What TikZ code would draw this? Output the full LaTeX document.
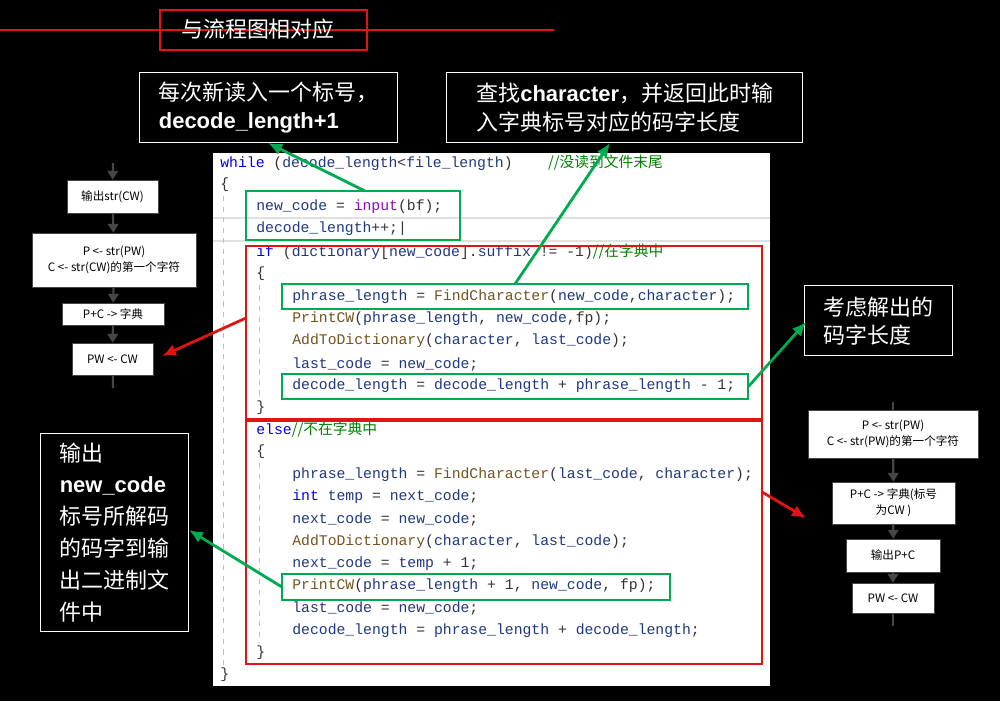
\documentclass[tikz,border=0pt]{standalone}
\usepackage{fontspec}
\setmainfont{Liberation Sans}
\setmonofont{Liberation Mono}
\newfontfamily\cjk{Noto Sans CJK SC}
\newfontfamily\arialb{Liberation Sans}
\definecolor{kwc}{RGB}{0,0,230}
\definecolor{fnc}{RGB}{116,83,31}
\definecolor{inc}{RGB}{143,8,196}
\definecolor{cmc}{RGB}{0,128,0}
\definecolor{vac}{RGB}{31,55,127}
\definecolor{gbox}{RGB}{0,170,80}
\definecolor{rbox}{RGB}{225,20,20}
\definecolor{flow}{RGB}{70,70,70}
\newcommand{\kw}[1]{\textcolor{kwc}{#1}}
\newcommand{\fn}[1]{\textcolor{fnc}{#1}}
\newcommand{\cmt}[1]{\textcolor{cmc}{{\cjk #1}}}
\newcommand{\va}[1]{\textcolor{vac}{#1}}
\begin{document}
\begin{tikzpicture}[x=0.02cm,y=-0.02cm,
  code/.style={anchor=west,inner sep=0,font=\ttfamily\fontsize{8.4}{10}\selectfont,text=black!80},
  lab/.style={draw=white,line width=0.8pt,fill=black,text=white,font=\cjk\fontsize{12.5}{16}\selectfont,align=left,anchor=north west,inner sep=5pt},
  gb/.style={draw=gbox,line width=1.6pt},
  rb/.style={draw=rbox,line width=1.6pt},
  ga/.style={draw=gbox,line width=1.6pt,-{Latex[length=8pt,width=7pt]}},
  ra/.style={draw=rbox,line width=1.6pt,-{Latex[length=8pt,width=7pt]}},
  fb/.style={draw=flow,fill=white,text=black,font=\cjk\fontsize{6.6}{9}\selectfont,align=center,inner sep=0},
  fa/.style={draw=flow,line width=1.2pt,-{Triangle[length=5pt,width=6pt]}}]
\usetikzlibrary{arrows.meta}
\fill[black] (0,0) rectangle (1000,701);
\useasboundingbox (0,0) rectangle (1000,701);
% code panel
\fill[white] (213,153) rectangle (770,686);
\draw[black!12,line width=1pt] (213,218) -- (770,218) (213,241) -- (770,241);
\draw[black!25,dashed,line width=0.5pt] (223,196) -- (223,665) (259,285) -- (259,400) (259,463) -- (259,643);
\node[code] (l1) at (220,163) {\kw{while} (\va{decode\_length}<\va{file\_length})\hspace{2.4em}\cmt{//没读到文件末尾}};
\node[code] (l2) at (220,185) {\{};
\node[code] (l3) at (256,207) {\va{new\_code} = \textcolor{inc}{input}(bf);};
\node[code] (l4) at (256,229) {\va{decode\_length}++;|};
\node[code] (l5) at (256,252) {\kw{if} (\va{dictionary}[\va{new\_code}].\va{suffix} != -1)\cmt{//在字典中}};
\node[code] (l6) at (256,274) {\{};
\node[code] (l7) at (292,297) {\va{phrase\_length} = \fn{FindCharacter}(\va{new\_code},\va{character});};
\node[code] (l8) at (292,319) {\fn{PrintCW}(\va{phrase\_length}, \va{new\_code},fp);};
\node[code] (l9) at (292,341) {\fn{AddToDictionary}(\va{character}, \va{last\_code});};
\node[code] (l10) at (292,364) {\va{last\_code} = \va{new\_code};};
\node[code] (l11) at (292,386) {\va{decode\_length} = \va{decode\_length} + \va{phrase\_length} - 1;};
\node[code] (l12) at (256,408) {\}};
\node[code] (l13) at (256,430) {\kw{else}\cmt{//不在字典中}};
\node[code] (l14) at (256,452) {\{};
\node[code] (l15) at (292,475) {\va{phrase\_length} = \fn{FindCharacter}(\va{last\_code}, \va{character});};
\node[code] (l16) at (292,497) {\kw{int} \va{temp} = \va{next\_code};};
\node[code] (l17) at (292,519) {\va{next\_code} = \va{new\_code};};
\node[code] (l18) at (292,542) {\fn{AddToDictionary}(\va{character}, \va{last\_code});};
\node[code] (l19) at (292,564) {\va{next\_code} = \va{temp} + 1;};
\node[code] (l20) at (292,586) {\fn{PrintCW}(\va{phrase\_length} + 1, \va{new\_code}, fp);};
\node[code] (l21) at (292,608) {\va{last\_code} = \va{new\_code};};
\node[code] (l22) at (292,631) {\va{decode\_length} = \va{phrase\_length} + \va{decode\_length};};
\node[code] (l23) at (256,653) {\}};
\node[code] (l24) at (220,675) {\}};
% highlight boxes
\draw[gb] (246,191) rectangle (460,240);
\draw[gb] (282,284) rectangle (748,309);
\draw[gb] (282,374) rectangle (748,399);
\draw[gb] (282,574) rectangle (670,600);
\draw[rb] (246,246) rectangle (762,419);
\draw[rb] (246,421) rectangle (762,664);
% labels
\node[draw=rbox,line width=1.6pt,fill=black,text=white,font=\cjk\fontsize{12.5}{16}\selectfont,minimum width=207\pgflinewidth,inner sep=0,minimum height=0pt] (title) at (263.5,30) {\rule{0pt}{0pt}};
\draw[rbox,line width=1.6pt] (160,10) rectangle (367,50);
\node[text=white,font=\cjk\fontsize{12.5}{16}\selectfont] (titletext) at (258,29) {与流程图相对应};
\node[lab,minimum width=258*0.02cm,minimum height=70*0.02cm] (b1) at (139,72) {每次新读入一个标号，\\{\arialb\bfseries decode\_length+1}};
\node[lab,minimum width=356*0.02cm,minimum height=70*0.02cm] (b2) at (446,72) {查找{\arialb\bfseries character}，并返回此时输\\入字典标号对应的码字长度};
\node[lab,minimum width=148*0.02cm,minimum height=70*0.02cm] (b3) at (804,285) {考虑解出的\\码字长度};
\node[lab,minimum width=148*0.02cm,minimum height=194*0.02cm,font=\cjk\fontsize{12.5}{18.2}\selectfont] (b4) at (40,433) {输出\\{\arialb\bfseries new\_code}\\标号所解码\\的码字到输\\出二进制文\\件中};
% arrows
\coordinate (g1) at (365,191); \coordinate (g1e) at (268,143);
\coordinate (g2) at (515,284); \coordinate (g2e) at (610,143);
\coordinate (g3) at (748,387); \coordinate (g3e) at (806,322);
\coordinate (g4) at (282,587); \coordinate (g4e) at (189,530);
\draw[ga] (g1) -- (g1e);
\draw[ga] (g2) -- (g2e);
\draw[ga] (g3) -- (g3e);
\draw[ga] (g4) -- (g4e);
\coordinate (r1) at (246,318); \coordinate (r1e) at (162,356);
\coordinate (r2) at (762,492); \coordinate (r2e) at (806,518);
\draw[ra] (r1) -- (r1e);
\draw[ra] (r2) -- (r2e);
% left flowchart
\coordinate (lt) at (113,163);
\node[fb,minimum width=91*0.02cm,minimum height=33*0.02cm] (f1) at (112.5,196.5) {输出str(CW)};
\node[fb,minimum width=164*0.02cm,minimum height=54*0.02cm] (f2) at (114,260) {P <- str(PW)\\C <- str(CW)的第一个字符};
\node[fb,minimum width=102*0.02cm,minimum height=22*0.02cm] (f3) at (113,314) {P+C -> 字典};
\node[fb,minimum width=81*0.02cm,minimum height=32*0.02cm] (f4) at (112.5,359) {PW <- CW};
\coordinate (lb) at (113,388);
\draw[fa] (lt) -- (f1.north);
\draw[fa] (f1) -- (f2);
\draw[fa] (f2) -- (f3);
\draw[fa] (f3) -- (f4);
\draw[flow,line width=1.2pt] (f4) -- (lb);
% right flowchart
\coordinate (rt) at (893,402);
\node[fb,minimum width=170*0.02cm,minimum height=48*0.02cm] (h1) at (893,434) {P <- str(PW)\\C <- str(PW)的第一个字符};
\node[fb,minimum width=123*0.02cm,minimum height=42*0.02cm] (h2) at (893.5,503) {P+C -> 字典(标号\\为CW )};
\node[fb,minimum width=94*0.02cm,minimum height=33*0.02cm] (h3) at (893,555.5) {输出P+C};
\node[fb,minimum width=82*0.02cm,minimum height=30*0.02cm] (h4) at (893,598) {PW <- CW};
\coordinate (rb2) at (893,626);
\draw[flow,line width=1.2pt] (rt) -- (h1.north);
\draw[fa] (h1) -- (h2);
\draw[fa] (h2) -- (h3);
\draw[fa] (h3) -- (h4);
\draw[flow,line width=1.2pt] (h4) -- (rb2);
\end{tikzpicture}
\end{document}
